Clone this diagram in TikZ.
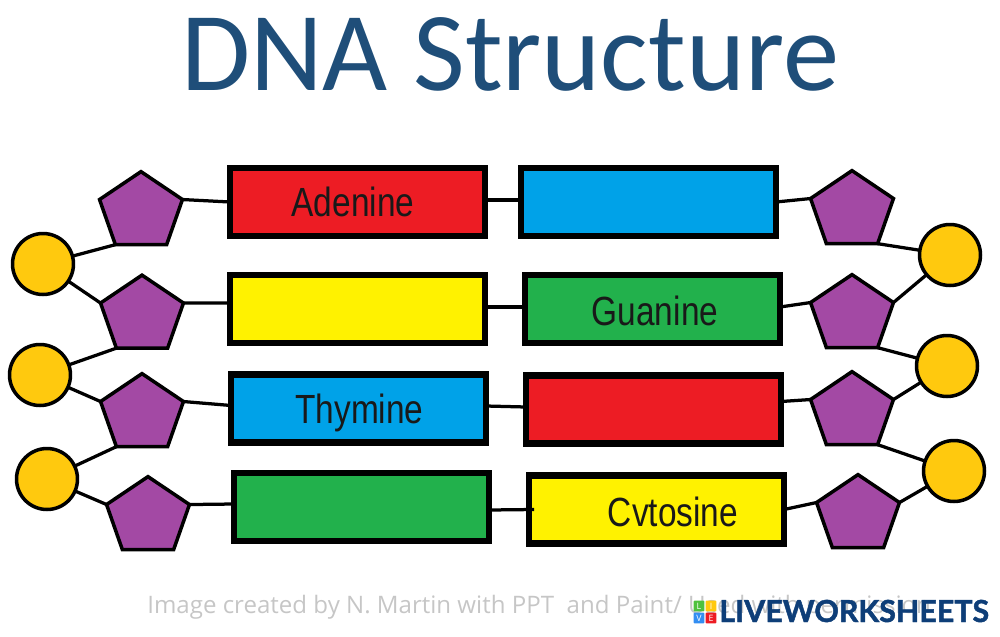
\documentclass[tikz,border=0pt]{standalone}
\usepackage{fontspec}
\usepackage{tikz}
\usetikzlibrary{shapes.geometric}
\setmainfont{Carlito}
\newfontfamily\basefont[FakeStretch=0.82]{Liberation Sans}
\newfontfamily\notefont{Open Sans}
\newfontfamily\logofont[BoldFeatures={FakeBold=1.5}]{Lato}
\definecolor{dnaRed}{HTML}{ED1C24}
\definecolor{dnaBlue}{HTML}{00A2E8}
\definecolor{dnaYellow}{HTML}{FFF200}
\definecolor{dnaGreen}{HTML}{22B14C}
\definecolor{dnaPurple}{HTML}{A349A4}
\definecolor{dnaOrange}{HTML}{FFC90E}
\definecolor{dnaTitle}{HTML}{1F4E79}
\definecolor{dnaNote}{HTML}{C6C6C6}
\definecolor{dnaLogo}{HTML}{0E3E78}

\begin{document}
\begin{tikzpicture}[
      x=0.02cm, y=-0.02cm,
      basebox/.style={draw=black, line width=0.125cm, minimum width=5.1cm, minimum height=1.36cm,
                  inner sep=0pt, outer sep=0pt},
      baselabel/.style={inner sep=0pt, font=\basefont\fontsize{23.2pt}{26pt}\selectfont, text=black!90},
      sugar/.style={regular polygon, regular polygon sides=5, minimum size=1.744cm,
                  inner sep=0pt, outer sep=0pt, transform shape, yscale=0.926,
                  draw=black, line width=0.07cm, fill=dnaPurple},
      phosphate/.style={circle, minimum size=1.22cm, inner sep=0pt, outer sep=0pt,
                  draw=black, line width=0.07cm, fill=dnaOrange},
      bond/.style={draw=black, line width=0.065cm},
      tile/.style={minimum size=0.215cm, inner sep=0pt, outer sep=0pt, rounded corners=0.5pt,
                  text=white, font=\notefont\fontsize{5pt}{5pt}\selectfont},
    ]
    \useasboundingbox (0,0) rectangle (1000,636);

    % ---------- title ----------
    \node[anchor=base, inner sep=0pt, text=dnaTitle, font=\fontsize{64pt}{70pt}\selectfont]
      (title) at (510,90) {DNA Structure};

    % ---------- base pairs ----------
    \foreach \n/\x/\y/\c in {b1/357.5/202/dnaRed, b2/648.5/202/dnaBlue,
                             b3/357.5/309/dnaYellow, b4/652.5/309/dnaGreen,
                             b5/358.5/408.5/dnaBlue, b6/653.5/409.5/dnaRed,
                             b7/361.5/507/dnaGreen, b8/656.5/509.5/dnaYellow}
      \node[basebox, fill=\c] (\n) at (\x,\y) {};

    \node[baselabel] (adenine)  at (353,202) {Adenine};
    \node[baselabel] (guanine)  at (655,311) {Guanine};
    \node[baselabel] (thymine)  at (359.5,413) {Thymine};
    \node[baselabel] (cytosine) at (673,512) {Cvtosine};

    % ---------- sugars ----------
    \foreach \n/\x/\y in {p1/141/212, p2/142/315.5, p3/142/414, p4/148/517,
                          q1/852/211, q2/852/315, q3/852/412, q4/858/515}
      \node[sugar] (\n) at (\x,\y) {};

    % ---------- phosphates ----------
    \foreach \n/\x/\y in {c1/43/264, c2/40/375, c3/47/479,
                          d1/950/255, d2/947/366, d3/954/471}
      \node[phosphate] (\n) at (\x,\y) {};

    % ---------- backbone ----------
    \foreach \a/\b in {c1/p1.corner 3, c1/p2.corner 2, c2/p2.corner 3,
                       c2/p3.corner 2, c3/p3.corner 3, c3/p4.corner 2,
                       d1/q1.corner 4, d1/q2.corner 5, d2/q2.corner 4,
                       d2/q3.corner 5, d3/q3.corner 4, d3/q4.corner 5}
      \draw[bond] (\a) -- (\b);

    % ---------- sugar to base, base to base ----------
    \draw[bond] (p1.corner 5) -- (b1.west);
    \draw[bond] (p2.corner 5) -- ([yshift=1.2mm]b3.west);
    \draw[bond] (p3.corner 5) -- ([yshift=0.6mm]b5.west);
    \draw[bond] (p4.corner 5) -- ([yshift=0.6mm]b7.west);
    \draw[bond] (b2.east) -- (q1.corner 2);
    \draw[bond] ([yshift=0.4mm]b4.east) -- (q2.corner 2);
    \draw[bond] ([yshift=1.6mm]b6.east) -- (q3.corner 2);
    \draw[bond] (b8.east) -- (q4.corner 2);
    \draw[bond] ([yshift=0.4mm]b1.east) -- ([yshift=0.4mm]b2.west);
    \draw[bond] ([yshift=0.4mm]b3.east) -- ([yshift=0.4mm]b4.west);
    \draw[bond] ([yshift=0.5mm]b5.east) -- ([yshift=0.5mm]b6.west);
    \draw[bond] ([yshift=-0.6mm]b7.east) -- ([xshift=1mm]b8.west);

    % ---------- credit line and logo ----------
    \node[anchor=base west, inner sep=0pt, text=dnaNote, font=\notefont\fontsize{13.7pt}{15pt}\selectfont]
      (credit) at (147,613) {Image created by N. Martin with PPT\ \ and Paint/ Used with permission};

    \node[tile, fill=dnaGreen!80!yellow] (tl) at (699,606) {L};
    \node[tile, fill=dnaOrange]          (ti) at (711,606) {I};
    \node[tile, fill=dnaBlue!70!blue!80] (tv) at (699,618) {V};
    \node[tile, fill=dnaRed]             (te) at (711,618) {E};
    \node[anchor=base west, inner sep=0pt, text=dnaLogo, font=\logofont\bfseries\fontsize{17.3pt}{20pt}\selectfont]
      (logo) at (719,622) {LIVEWORKSHEETS};
  \end{tikzpicture}
\end{document}
